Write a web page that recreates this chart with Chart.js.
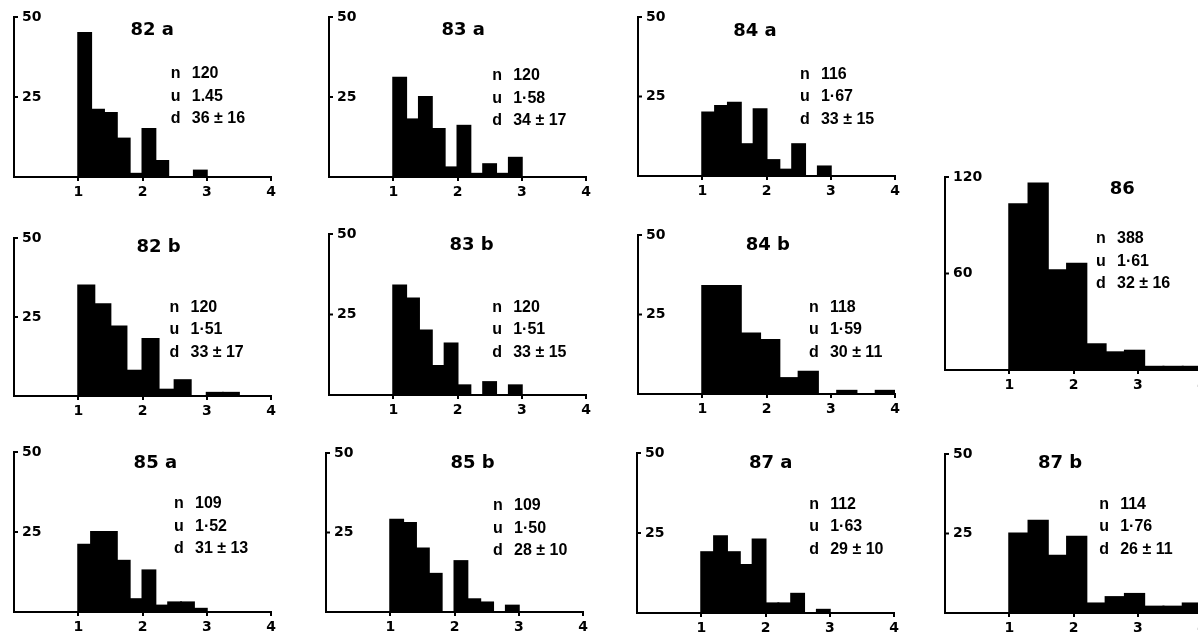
<!DOCTYPE html>
<html>
<head>
<meta charset="utf-8">
<script src="https://cdn.jsdelivr.net/npm/chart.js@4"></script>
<style>
  html, body { margin: 0; padding: 0; background: #fff; overflow: hidden; }
  body { width: 1198px; height: 634px; position: relative; }
  .panel { position: absolute; }
</style>
</head>
<body>
<script>
// bin centres (class width 0.2, 0.25 and 0.3)
const binsA = [1.1, 1.3, 1.5, 1.7, 1.9, 2.1, 2.3, 2.5, 2.7, 2.9, 3.1, 3.3, 3.5, 3.7, 3.9];
const binsB = [1.125, 1.375, 1.625, 1.875, 2.125, 2.375, 2.625, 2.875, 3.125, 3.375, 3.625, 3.875];
const binsC = [1.15, 1.45, 1.75, 2.05, 2.35, 2.65, 2.95, 3.25, 3.55, 3.85];

// counts per bin
const count82a = [45, 21, 20, 12, 1, 15, 5, 0, 0, 2, 0, 0, 0, 0, 0];
const count83a = [31, 18, 25, 15, 3, 16, 1, 4, 1, 6, 0, 0, 0, 0, 0];
const count84a = [20, 22, 23, 10, 21, 5, 2, 10, 0, 3, 0, 0, 0, 0, 0];
const count82b = [35, 29, 22, 8, 18, 2, 5, 0, 1, 1, 0, 0];
const count83b = [34, 30, 20, 9, 16, 3, 0, 4, 0, 3, 0, 0, 0, 0, 0];
const count84b = [34, 34, 19, 17, 5, 7, 0, 1, 0, 1];
const count86  = [103, 116, 62, 66, 16, 11, 12, 2, 2, 2];
const count85a = [21, 25, 25, 16, 4, 13, 2, 3, 3, 1, 0, 0, 0, 0, 0];
const count85b = [29, 28, 20, 12, 0, 16, 4, 3, 0, 2, 0, 0, 0, 0, 0];
const count87a = [19, 24, 19, 15, 23, 3, 3, 6, 0, 1, 0, 0, 0, 0, 0];
const count87b = [25, 29, 18, 24, 3, 5, 6, 2, 2, 3];

// panel labels and summary text
const panelIds = ["82 a", "83 a", "84 a", "82 b", "83 b", "84 b", "86", "85 a", "85 b", "87 a", "87 b"];
const nValues = ["120", "120", "116", "120", "120", "118", "388", "109", "109", "112", "114"];
const uValues = ["1.45", "1·58", "1·67", "1·51", "1·51", "1·59", "1·61", "1·52", "1·50", "1·63", "1·76"];
const dValues = ["36 ± 16", "34 ± 17", "33 ± 15", "33 ± 17", "33 ± 15", "30 ± 11", "32 ± 16", "31 ± 13", "28 ± 10", "29 ± 10", "26 ± 11"];
const yMaxes = [50, 50, 50, 50, 50, 50, 120, 50, 50, 50, 50];

const panelBins = [binsA, binsA, binsA, binsB, binsA, binsC, binsC, binsA, binsA, binsA, binsC];
const panelCounts = [count82a, count83a, count84a, count82b, count83b, count84b, count86, count85a, count85b, count87a, count87b];

// where each panel sits on the page (axis corner in px) and where its texts go (data units)
const frames = [
  { axisX: 14,  topY: 17,  baseY: 177, title: [2.15, 45.9], stats: [2.44, 32.2] },
  { axisX: 329, topY: 17,  baseY: 177, title: [2.09, 45.9], stats: [2.54, 31.6] },
  { axisX: 638, topY: 17,  baseY: 176, title: [1.82, 45.6], stats: [2.52, 31.9] },
  { axisX: 14,  topY: 238, baseY: 396, title: [2.25, 47.2], stats: [2.42, 28.1] },
  { axisX: 329, topY: 234, baseY: 395, title: [2.22, 46.6], stats: [2.54, 27.2] },
  { axisX: 638, topY: 235, baseY: 394, title: [2.02, 46.9], stats: [2.66, 27.3] },
  { axisX: 945, topY: 177, baseY: 370, title: [2.76, 112.5], stats: [2.35, 81.5] },
  { axisX: 14,  topY: 452, baseY: 612, title: [2.2, 46.6], stats: [2.49, 33.75] },
  { axisX: 326, topY: 453, baseY: 612, title: [2.28, 46.6], stats: [2.6, 33.4] },
  { axisX: 637, topY: 453, baseY: 613, title: [2.08, 46.9], stats: [2.68, 34] },
  { axisX: 945, topY: 454, baseY: 613, title: [1.79, 47.2], stats: [2.4, 34.2] }
];

const PAD_L = 4, PAD_T = 20, PAD_R = 12, Y_W = 16, X_H = 27, SPAN_X = 257;
const tickFont = { family: "DejaVu Sans", size: 14, weight: "bold" };

// draws the panel name, the n/u/d block and the little inward ticks on the y axis
function makeTextPlugin(i) {
  return {
    id: "panelText" + i,
    afterDatasetsDraw(chart) {
      const ctx = chart.ctx;
      const xs = chart.scales.x, ys = chart.scales.y;
      const f = frames[i];
      ctx.save();
      ctx.fillStyle = "#000";
      ctx.strokeStyle = "#000";
      ctx.lineWidth = 2;
      ys.ticks.forEach(t => {
        if (t.value === 0) return;
        const py = ys.getPixelForValue(t.value);
        ctx.beginPath();
        ctx.moveTo(xs.left, py);
        ctx.lineTo(xs.left + 4, py);
        ctx.stroke();
      });
      ctx.font = 'bold 18px "DejaVu Sans"';
      ctx.textAlign = "center";
      ctx.textBaseline = "middle";
      ctx.fillText(panelIds[i], xs.getPixelForValue(f.title[0]), ys.getPixelForValue(f.title[1]));
      ctx.font = 'bold 16px "Liberation Sans"';
      ctx.textAlign = "left";
      const x0 = xs.getPixelForValue(f.stats[0]);
      const y0 = ys.getPixelForValue(f.stats[1]);
      const rows = [["n", nValues[i]], ["u", uValues[i]], ["d", dValues[i]]];
      rows.forEach((r, k) => {
        ctx.fillText(r[0], x0, y0 + k * 22.5);
        ctx.fillText(r[1], x0 + 21, y0 + k * 22.5);
      });
      ctx.restore();
    }
  };
}

frames.forEach((f, i) => {
  const box = document.createElement("div");
  box.className = "panel";
  box.style.left = (f.axisX - PAD_L - Y_W) + "px";
  box.style.top = (f.topY - PAD_T) + "px";
  box.style.width = (SPAN_X + PAD_L + Y_W + PAD_R) + "px";
  box.style.height = (f.baseY - f.topY + PAD_T + X_H) + "px";
  const canvas = document.createElement("canvas");
  box.appendChild(canvas);
  document.body.appendChild(box);

  const bins = panelBins[i];
  const counts = panelCounts[i];
  const yMax = yMaxes[i];

  new Chart(canvas, {
    type: "bar",
    data: {
      datasets: [{
        data: bins.map((b, k) => ({ x: b, y: counts[k] })),
        backgroundColor: "#000",
        borderWidth: 0,
        inflateAmount: 1,
        barPercentage: 1,
        categoryPercentage: 1
      }]
    },
    options: {
      responsive: true,
      maintainAspectRatio: false,
      animation: false,
      layout: { padding: { left: PAD_L, top: PAD_T, right: PAD_R, bottom: 0 } },
      plugins: {
        legend: { display: false },
        tooltip: { enabled: false }
      },
      scales: {
        x: {
          type: "linear",
          min: 0,
          max: 4,
          offset: false,
          afterFit: s => { s.height = X_H; },
          ticks: {
            stepSize: 1,
            autoSkip: false,
            maxRotation: 0,
            padding: 3,
            color: "#000",
            font: tickFont,
            callback: v => v === 0 ? "" : v
          },
          grid: {
            offset: false,
            drawOnChartArea: false,
            drawTicks: true,
            tickLength: 4,
            lineWidth: 2,
            color: c => (c.tick && c.tick.value === 0) ? "rgba(0,0,0,0)" : "#000"
          },
          border: { color: "#000", width: 2 }
        },
        y: {
          min: 0,
          max: yMax,
          afterFit: s => { s.width = Y_W; },
          ticks: {
            stepSize: yMax / 2,
            mirror: true,
            padding: 8,
            color: "#000",
            font: tickFont,
            callback: v => v === 0 ? "" : v
          },
          grid: { display: false, drawTicks: false },
          border: { color: "#000", width: 2 }
        }
      }
    },
    plugins: [makeTextPlugin(i)]
  });
});
</script>
</body>
</html>
